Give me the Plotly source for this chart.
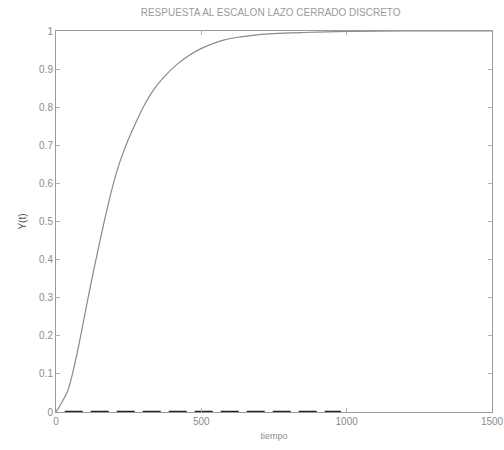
import plotly.graph_objects as go

# Closed-loop discrete step response samples
tiempo = [0, 20, 40, 55, 75, 93, 110, 128, 145, 159, 178, 197, 220, 248, 275,
          300, 335, 369, 417, 460, 497, 540, 576, 620, 669, 748, 850, 1000,
          1200, 1500]
respuesta = [0, 0.025, 0.055, 0.095, 0.163, 0.232, 0.298, 0.366, 0.427, 0.476,
             0.540, 0.598, 0.657, 0.714, 0.760, 0.800, 0.845, 0.877, 0.913,
             0.937, 0.953, 0.967, 0.976, 0.983, 0.988, 0.993, 0.996, 0.999,
             1.0, 1.0]

# Dark baseline segment along zero
base_t = [30, 980]
base_y = [0, 0]

x_ticks = [0, 500, 1000, 1500]
y_ticks = [0, 0.1, 0.2, 0.3, 0.4, 0.5, 0.6, 0.7, 0.8, 0.9, 1]

fig = go.Figure()
fig.add_trace(go.Scatter(x=base_t, y=base_y, mode="lines",
                         line=dict(color="#222222", width=2.5, dash="18px,8px"),
                         hoverinfo="skip", showlegend=False, cliponaxis=False))
fig.add_trace(go.Scatter(x=tiempo, y=respuesta, mode="lines",
                         line=dict(color="#8a8a8a", width=1.2, shape="spline",
                                   smoothing=0.8),
                         showlegend=False))

font = dict(family="Liberation Sans, Arial, sans-serif", size=10, color="#8c8c8c")

fig.update_layout(
    width=504, height=450,
    margin=dict(l=56, r=12, t=31, b=38, autoexpand=False),
    paper_bgcolor="white", plot_bgcolor="white",
    font=font,
    title=dict(text="RESPUESTA AL ESCALON LAZO CERRADO DISCRETO",
               x=0.537, xanchor="center", y=0.973, yanchor="middle",
               font=dict(family="Liberation Sans, Arial, sans-serif", size=10, color="#9a9a9a")),
    xaxis=dict(range=[0, 1500], tickvals=x_ticks, ticks="inside", ticklen=4,
               tickcolor="#b0b0b0", showgrid=False, zeroline=False,
               automargin=False,
               showline=True, linecolor="#9a9a9a", linewidth=1, mirror="ticks",
               title=dict(text="tiempo", standoff=6,
                          font=dict(size=9, color="#8c8c8c"))),
    yaxis=dict(range=[0, 1], tickvals=y_ticks, ticks="inside", ticklen=4,
               tickcolor="#b0b0b0", showgrid=False, zeroline=False,
               automargin=False,
               showline=True, linecolor="#9a9a9a", linewidth=1, mirror="ticks",
               title=dict(text="Y(t)", standoff=10,
                          font=dict(size=10, color="#555555"))),
)

fig.write_html("out.html")
